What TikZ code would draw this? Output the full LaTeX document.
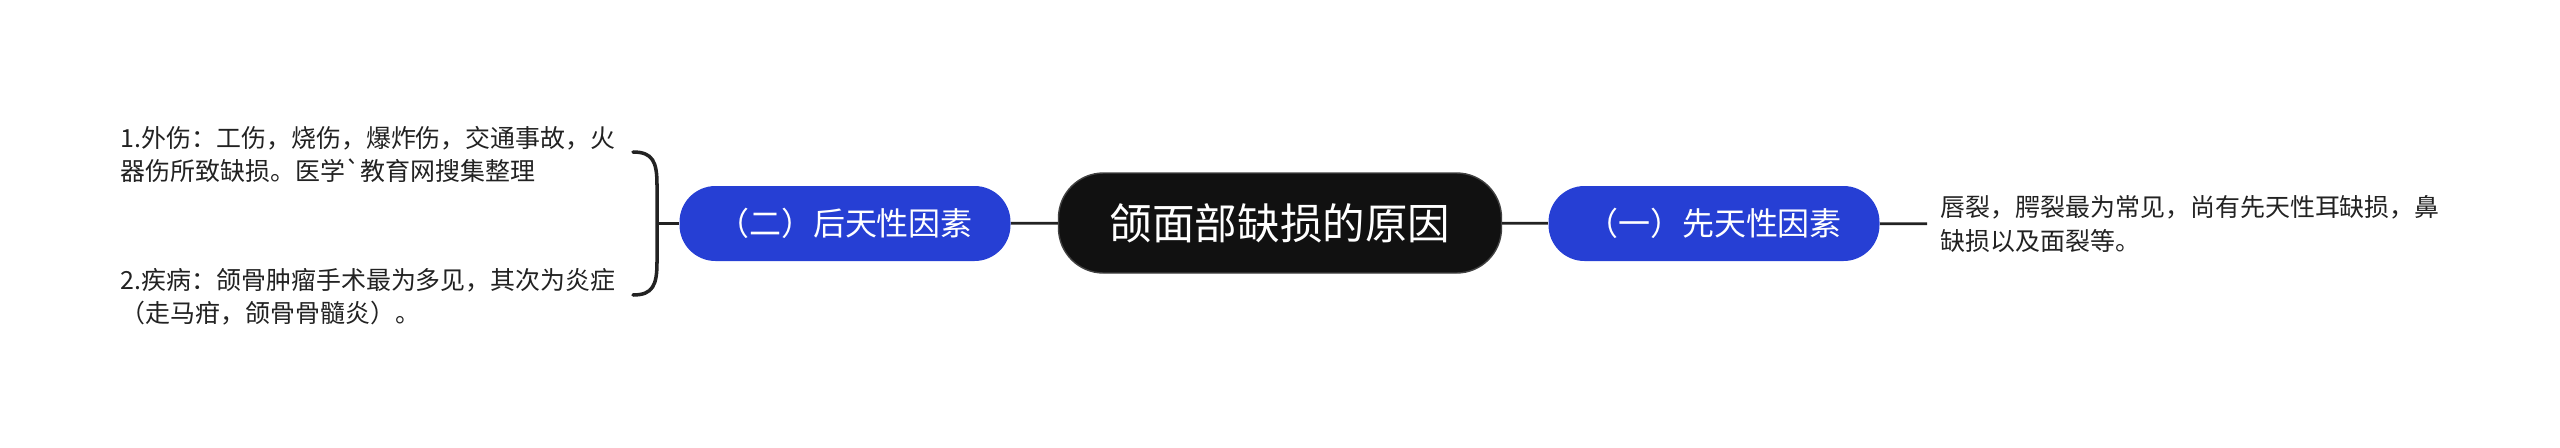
\documentclass[tikz,border=0pt]{standalone}
\usepackage{fontspec}
\setmainfont{Noto Sans CJK SC}[Ligatures=TeXOff]
\usetikzlibrary{positioning}
\definecolor{rootblack}{HTML}{111111}
\definecolor{branchblue}{RGB}{38,63,212}
\definecolor{leafgray}{HTML}{222222}

\begin{document}
\begin{tikzpicture}[
  rootbox/.style={fill=rootblack, draw=rootblack!80, text=white, rounded corners=0.45cm,
    minimum width=4.43cm, minimum height=1.0cm, inner sep=0pt, font=\fontsize{12.1pt}{14pt}\selectfont},
  branchbox/.style={fill=branchblue, text=white, rounded corners=0.36cm,
    minimum width=3.31cm, minimum height=0.75cm, inner sep=0pt, font=\fontsize{9.1pt}{11pt}\selectfont},
  leaftext/.style={text=leafgray, align=left, inner sep=0pt, font=\fontsize{7.1pt}{9.5pt}\selectfont},
  link/.style={draw=leafgray, line width=0.8pt}
]

\useasboundingbox (0,0) rectangle (25.6,-4.47);

\node[rootbox] (root) at (12.80,-2.23) {颌面部缺损的原因};

\node[branchbox] (early) at (17.14,-2.235) {（一）先天性因素};

\node[branchbox] (later) at (8.45,-2.235) {（二）后天性因素};

\node[leaftext, anchor=west, inner xsep=0.13cm] (earlytext) at (19.27,-2.24) {
唇裂，腭裂最为常见，尚有先天性耳缺损，鼻\\
缺损以及面裂等。
};

\node[leaftext, anchor=west] (injury) at (1.20,-1.545) {
1.外伤：工伤，烧伤，爆炸伤，交通事故，火\\
器伤所致缺损。医学`教育网搜集整理
};

\node[leaftext, anchor=west] (disease) at (1.20,-2.965) {
2.疾病：颌骨肿瘤手术最为多见，其次为炎症\\
（走马疳，颌骨骨髓炎）。
};

\coordinate (brace) at (6.57,-2.235);

\draw[link] (root) -- (early);
\draw[link] (root) -- (later);
\draw[link] (early) -- (earlytext);
\draw[link] (brace) -- (later);
\draw[leafgray, line width=1pt, line cap=round]
  (6.33,-1.52) .. controls (6.53,-1.52) and (6.57,-1.62) .. (6.57,-1.85)
  -- (6.57,-2.62) .. controls (6.57,-2.85) and (6.53,-2.95) .. (6.33,-2.95);

\end{tikzpicture}
\end{document}
